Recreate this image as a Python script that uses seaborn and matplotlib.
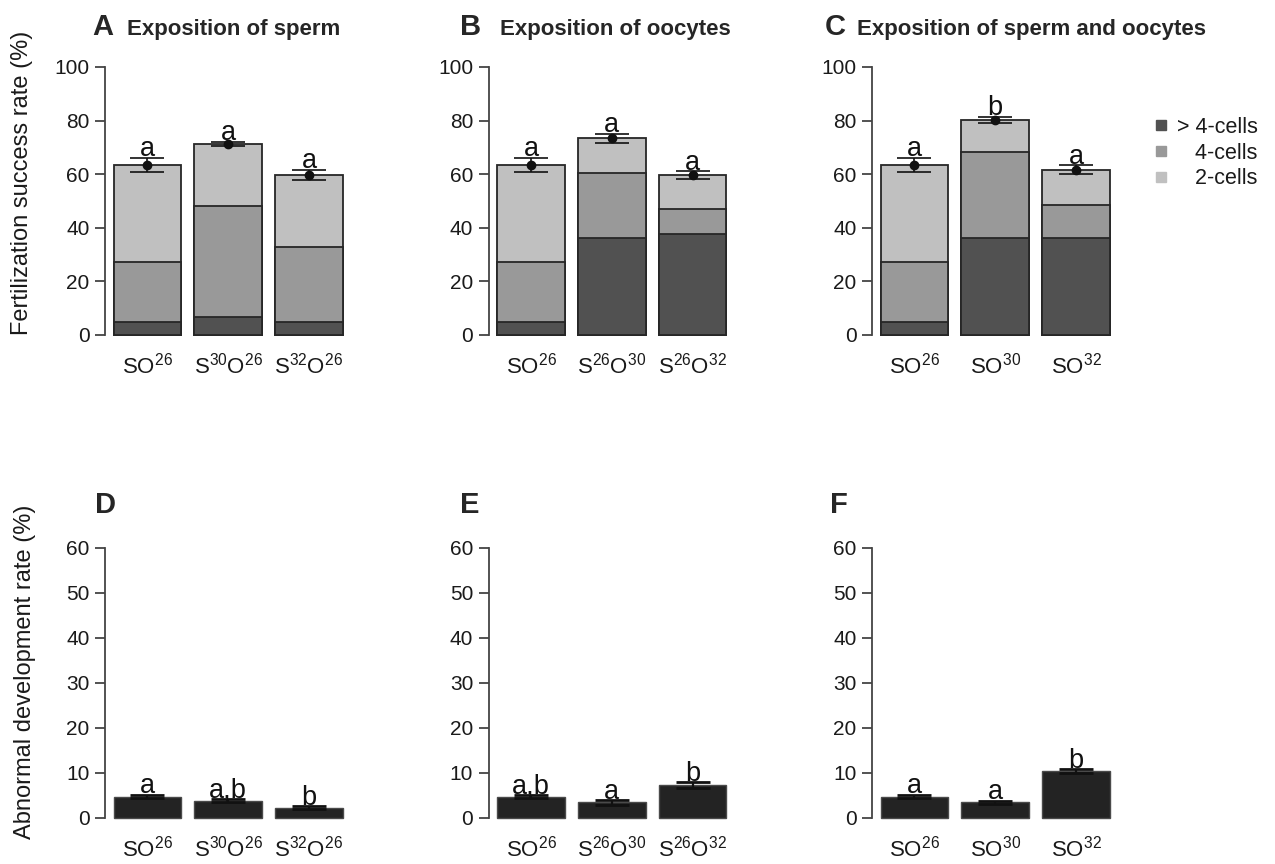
import matplotlib
matplotlib.use("Agg")
import numpy as np
import matplotlib.pyplot as plt
from matplotlib.lines import Line2D
import seaborn as sns

sns.set_style("ticks")
plt.rcParams['font.family'] = ['Liberation Sans', 'DejaVu Sans']
plt.rcParams['mathtext.fontset'] = 'custom'
plt.rcParams['mathtext.rm'] = 'Liberation Sans'

# categories and tick labels
cats_a = ['SO26', 'S30O26', 'S32O26']
cats_b = ['SO26', 'S26O30', 'S26O32']
cats_c = ['SO26', 'SO30', 'SO32']
ticks_a = [r'$\mathregular{SO^{26}}$', r'$\mathregular{S^{30}O^{26}}$', r'$\mathregular{S^{32}O^{26}}$']
ticks_b = [r'$\mathregular{SO^{26}}$', r'$\mathregular{S^{26}O^{30}}$', r'$\mathregular{S^{26}O^{32}}$']
ticks_c = [r'$\mathregular{SO^{26}}$', r'$\mathregular{SO^{30}}$', r'$\mathregular{SO^{32}}$']

# fertilization success: share of each stage (%)
gt4_a = [4.9, 6.6, 4.9]
four_a = [22.5, 41.5, 28.1]
two_a = [36.2, 23.2, 26.7]
sem_a = [2.6, 0.9, 2.0]
let_a = ['a', 'a', 'a']

gt4_b = [4.9, 36.3, 37.6]
four_b = [22.5, 24.0, 9.5]
two_b = [36.2, 13.1, 12.6]
sem_b = [2.6, 1.7, 1.5]
let_b = ['a', 'a', 'a']

gt4_c = [4.9, 36.3, 36.3]
four_c = [22.5, 32.1, 12.3]
two_c = [36.2, 11.8, 13.0]
sem_c = [2.6, 1.2, 1.7]
let_c = ['a', 'b', 'a']

# abnormal development rate (%)
abn_d = [4.7, 3.8, 2.2]
sem_d = [0.4, 0.3, 0.3]
let_d = ['a', 'a,b', 'b']

abn_e = [4.7, 3.4, 7.2]
sem_e = [0.4, 0.5, 0.7]
let_e = ['a,b', 'a', 'b']

abn_f = [4.7, 3.4, 10.4]
sem_f = [0.4, 0.4, 0.4]
let_f = ['a', 'a', 'b']

dark, mid, light = '#515151', '#999999', '#c0c0c0'
edge = '#262626'
axcol = '#444444'

W, H = 1275, 864
fig = plt.figure(figsize=(W / 100, H / 100), dpi=100)


def px_axes(left, top, bottom, width=246.5):
    return fig.add_axes([left / W, 1 - bottom / H, width / W, (bottom - top) / H])


def style(ax, ymax, step, ticklabels):
    ax.set_xlim(-0.526, 2.526)
    ax.set_ylim(0, ymax)
    ax.set_yticks(np.arange(0, ymax + 1, step))
    ax.set_xticks(range(3))
    ax.set_xticklabels(ticklabels)
    ax.set_xlabel('')
    ax.set_ylabel('')
    for s in ['top', 'right', 'bottom']:
        ax.spines[s].set_visible(False)
    ax.spines['left'].set_color(axcol)
    ax.spines['left'].set_linewidth(1.3)
    ax.tick_params(axis='y', length=7, width=1.3, color=axcol, pad=4,
                   labelsize=15, labelcolor='#1a1a1a')
    ax.tick_params(axis='x', length=0, pad=13, labelsize=16, labelcolor='#1a1a1a')
    for p in ax.patches:
        p.set_clip_on(False)


def letters(ax, tops, sem, labs):
    for i, (t, s, l) in enumerate(zip(tops, sem, labs)):
        ax.annotate(l, (i, t + s), xytext=(0, 1), textcoords='offset points',
                    ha='center', va='baseline', fontsize=19.5, color='#111111')


def stacked(ax, cats, gt4, four, two, sem, labs, ticklabels):
    lo = np.array(gt4)
    md = lo + np.array(four)
    tot = md + np.array(two)
    for vals, col in [(tot, light), (md, mid), (lo, dark)]:
        sns.barplot(x=cats, y=vals, order=cats, color=col, width=0.84,
                    edgecolor=edge, linewidth=1.3, saturation=1,
                    errorbar=None, ax=ax)
    ax.errorbar(range(3), tot, yerr=sem, fmt='o', ms=6, color='#111111',
                capsize=12.5, elinewidth=1.2, capthick=1.2, zorder=5)
    letters(ax, tot, sem, labs)
    style(ax, 100, 20, ticklabels)


def abnormal(ax, cats, vals, sem, labs, ticklabels):
    sns.barplot(x=cats, y=vals, order=cats, color='#232323', width=0.84,
                edgecolor='#4a4a4a', linewidth=1.0, saturation=1,
                errorbar=None, ax=ax)
    ax.errorbar(range(3), vals, yerr=sem, fmt='none', color='#111111',
                capsize=12.5, elinewidth=1.6, capthick=2.0, zorder=5)
    letters(ax, np.array(vals), sem, labs)
    style(ax, 60, 10, ticklabels)


ax_a = px_axes(105, 67, 335)
ax_b = px_axes(488.5, 67, 335)
ax_c = px_axes(872, 67, 335)
ax_d = px_axes(105, 547.7, 817.7)
ax_e = px_axes(488.5, 547.7, 817.7)
ax_f = px_axes(872, 547.7, 817.7)

stacked(ax_a, cats_a, gt4_a, four_a, two_a, sem_a, let_a, ticks_a)
stacked(ax_b, cats_b, gt4_b, four_b, two_b, sem_b, let_b, ticks_b)
stacked(ax_c, cats_c, gt4_c, four_c, two_c, sem_c, let_c, ticks_c)
abnormal(ax_d, cats_a, abn_d, sem_d, let_d, ticks_a)
abnormal(ax_e, cats_b, abn_e, sem_e, let_e, ticks_b)
abnormal(ax_f, cats_c, abn_f, sem_f, let_f, ticks_c)

# panel titles
for x, xt, y, letter, title in [(92, 127, 35, 'A', 'Exposition of sperm'),
                                (460, 500, 35, 'B', 'Exposition of oocytes'),
                                (825, 857, 35, 'C', 'Exposition of sperm and oocytes'),
                                (95, None, 513, 'D', ''),
                                (460, None, 513, 'E', ''),
                                (830, None, 513, 'F', '')]:
    fig.text(x / W, 1 - y / H, letter, fontsize=21, fontweight='bold', va='baseline')
    if title:
        fig.text(xt / W, 1 - y / H, title, fontsize=16, fontweight='bold', va='baseline')

fig.text(22 / W, 1 - 183 / H, 'Fertilization success rate (%)', rotation=90,
         ha='center', va='center', fontsize=17, color='#1a1a1a')
fig.text(25 / W, 1 - 672 / H, 'Abnormal development rate (%)', rotation=90,
         ha='center', va='center', fontsize=17, color='#1a1a1a')

handles = [Line2D([], [], marker='s', ls='', color=c, markersize=6.5) for c in (dark, mid, light)]
fig.legend(handles, ['> 4-cells', '   4-cells', '   2-cells'], loc='upper left',
           bbox_to_anchor=(1154 / W, 1 - 117 / H), frameon=False, fontsize=15.5,
           handlelength=0.65, handletextpad=0.4, labelspacing=0.22, borderpad=0,
           borderaxespad=0, labelcolor='#1a1a1a')

fig.savefig('out.png', dpi=100)
